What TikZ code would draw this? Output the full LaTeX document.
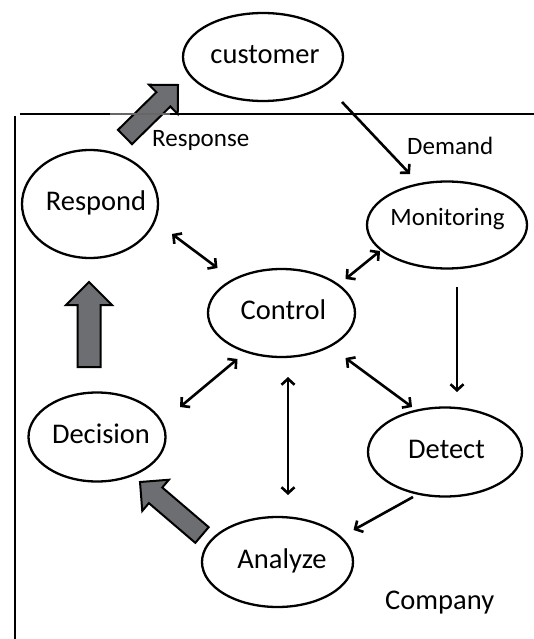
\documentclass[tikz,border=0pt]{standalone}
\usepackage{fontspec}
\setmainfont{Carlito}
\usetikzlibrary{calc,arrows.meta,shapes.geometric}
\definecolor{blockgray}{HTML}{6D6E71}
\newcommand\ctext[2][0pt]{\makebox[0pt]{\hspace*{#1}#2}}
\newcommand\blockarrow[5]{%
  \coordinate (#1-base) at ($(#2)!#5!(#1)$);
  \draw[bigarrow] ($(#1)!#3!90:(#2)$) -- ($(#1-base)!#3!90:(#2)$) -- ($(#1-base)!#4!90:(#2)$) -- (#2) -- ($(#1-base)!#4!-90:(#2)$) -- ($(#1-base)!#3!-90:(#2)$) -- ($(#1)!#3!-90:(#2)$) -- cycle;}
\begin{document}
\begin{tikzpicture}[x=1pt,y=-1pt,
  ell/.style={ellipse,draw,line width=2.3pt,inner sep=0pt,
    font=\fontsize{28.5}{34}\selectfont,text height=18.5pt,text depth=5.7pt},
  lbl/.style={anchor=base west,inner sep=0pt,font=\fontsize{25}{30}\selectfont},
  conn/.style={line width=2.6pt,-{Straight Barb[length=6pt,width=13pt]}},
  dconn/.style={line width=2.6pt,{Straight Barb[length=6pt,width=13pt]}-{Straight Barb[length=6pt,width=13pt]}},
  frame/.style={line width=1.8pt},
  bigarrow/.style={draw=black,line width=2pt,fill=blockgray,line join=miter}]
\useasboundingbox (0,0) rectangle (534,639);

% frame lines
\draw[frame] (20,114) -- (534,114);
\draw[frame] (15,116) -- (15,639);

% ellipses
\node[ell,minimum width=160pt,minimum height=88pt] (customer) at (263,57) {\ctext[4pt]{customer}};
\node[ell,minimum width=136pt,minimum height=108pt] (respond) at (90,204) {\ctext[12pt]{Respond}};
\node[ell,minimum width=160pt,minimum height=87pt,font=\fontsize{25}{30}\selectfont,text height=9pt,text depth=9pt] (monitoring) at (447,225) {\ctext[1pt]{Monitoring}};
\node[ell,minimum width=147pt,minimum height=88pt] (control) at (281.5,313) {\ctext[4pt]{Control}};
\node[ell,minimum width=137pt,minimum height=89pt] (decision) at (97,437) {\ctext[8pt]{Decision}};
\node[ell,minimum width=154pt,minimum height=89pt] (detect) at (445,452) {\ctext[3pt]{Detect}};
\node[ell,minimum width=151pt,minimum height=90pt] (analyze) at (277.5,562) {\ctext[9pt]{Analyze}};

% labels
\node[lbl] (response) at (152,147) {Response};
\node[lbl] (demand) at (407,155) {Demand};
\node[lbl,font=\fontsize{28.5}{34}\selectfont] (company) at (385,609) {Company};

% connectors
\draw[conn] ([shift={(79,45)}]customer.center) -- ([shift={(-37,-51)}]monitoring.center);
\draw[dconn] ([shift={(82,30)}]respond.center) -- ([shift={(-64,-45)}]control.center);
\draw[dconn] ([shift={(-67,26)}]monitoring.center) -- ([shift={(64,-34)}]control.center);
\draw[conn] ([shift={(10,62)}]monitoring.center) -- ([shift={(12,-60)}]detect.center);
\draw[dconn] ([shift={(64,45)}]control.center) -- ([shift={(-33,-45)}]detect.center);
\draw[dconn] ([shift={(-44,46)}]control.center) -- ([shift={(83,-30)}]decision.center);
\draw[dconn] ([shift={(6.5,64)}]control.center) -- ([shift={(10.5,-67)}]analyze.center);
\draw[conn] ([shift={(-32,45)}]detect.center) -- ([shift={(76,-32)}]analyze.center);

% block arrows
\coordinate (ra) at (125,137); \coordinate (ratip) at (178,85);
\blockarrow{ra}{ratip}{10pt}{20.5pt}{20.5pt}
\coordinate (va) at (89,367); \coordinate (vatip) at (89,282);
\blockarrow{va}{vatip}{11.5pt}{23pt}{23pt}
\coordinate (da) at (202,535); \coordinate (datip) at (140,482);
\blockarrow{da}{datip}{10.3pt}{20.5pt}{20.5pt}
\draw[frame,black!60] (110,114) -- (170,114);
\end{tikzpicture}
\end{document}
